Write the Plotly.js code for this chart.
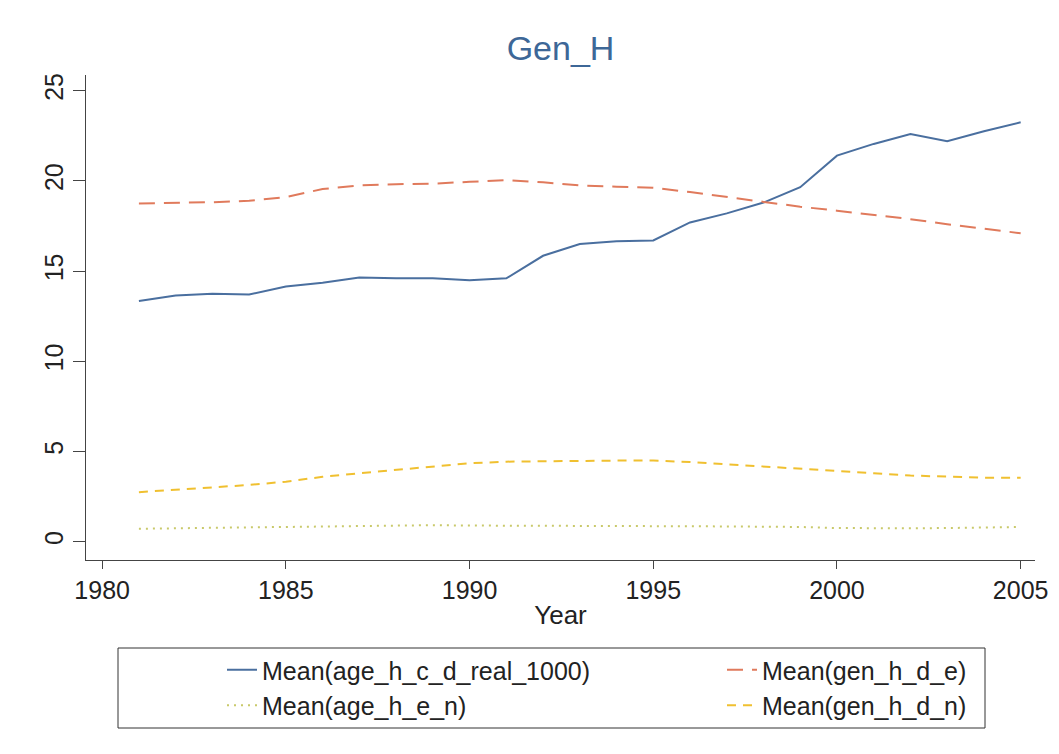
<!DOCTYPE html>
<html>
<head>
<meta charset="utf-8">
<script src="https://cdn.plot.ly/plotly-3.0.1.min.js"></script>
<style>
  html, body { margin: 0; padding: 0; background: #ffffff; }
  #plot { width: 1059px; height: 754px; }
</style>
</head>
<body>
<div id="plot"></div>
<script>
// Years on the x axis
var years = [1981, 1982, 1983, 1984, 1985, 1986, 1987, 1988, 1989, 1990, 1991, 1992, 1993,
             1994, 1995, 1996, 1997, 1998, 1999, 2000, 2001, 2002, 2003, 2004, 2005];

// Series
var ageHCDReal1000 = [13.35, 13.65, 13.75, 13.7, 14.15, 14.35, 14.65, 14.6, 14.6, 14.5, 14.6, 15.85, 16.5,
                      16.65, 16.7, 17.7, 18.2, 18.8, 19.65, 21.4, 22.05, 22.6, 22.2, 22.75, 23.25];
var genHDE = [18.75, 18.78, 18.82, 18.9, 19.1, 19.55, 19.75, 19.82, 19.85, 19.95, 20.05, 19.92, 19.75,
              19.68, 19.62, 19.38, 19.1, 18.82, 18.57, 18.35, 18.12, 17.88, 17.6, 17.35, 17.1];
var ageHEN = [0.72, 0.76, 0.78, 0.8, 0.82, 0.85, 0.88, 0.9, 0.92, 0.9, 0.9, 0.9, 0.9,
              0.9, 0.88, 0.86, 0.85, 0.84, 0.82, 0.76, 0.74, 0.75, 0.76, 0.8, 0.82];
var genHDN = [2.75, 2.88, 3.02, 3.15, 3.33, 3.6, 3.8, 3.98, 4.16, 4.35, 4.44, 4.48, 4.48,
              4.5, 4.5, 4.42, 4.3, 4.2, 4.07, 3.94, 3.8, 3.67, 3.6, 3.55, 3.55];

var xTicks = [1980, 1985, 1990, 1995, 2000, 2005];
var yTicks = [0, 5, 10, 15, 20, 25];

var traces = [
  { x: years, y: ageHCDReal1000, type: "scatter", mode: "lines",
    name: "Mean(age_h_c_d_real_1000)", legend: "legend",
    line: { color: "#4a6f9f", width: 2 } },
  { x: years, y: genHDE, type: "scatter", mode: "lines",
    name: "Mean(gen_h_d_e)", legend: "legend2",
    line: { color: "#e07a5c", width: 2, dash: "16px,9px" } },
  { x: years, y: ageHEN, type: "scatter", mode: "lines",
    name: "Mean(age_h_e_n)", legend: "legend",
    line: { color: "#c9c96a", width: 2, dash: "2px,5px" } },
  { x: years, y: genHDN, type: "scatter", mode: "lines",
    name: "Mean(gen_h_d_n)", legend: "legend2",
    line: { color: "#f0c030", width: 2, dash: "9px,7px" } }
];

var font = "Liberation Sans, Arial, sans-serif";

var legendCommon = {
  orientation: "v",
  xref: "container", yref: "container",
  xanchor: "left", yanchor: "top",
  y: 1 - 647 / 754,
  bgcolor: "rgba(0,0,0,0)",
  borderwidth: 0,
  font: { family: font, size: 25, color: "#222" },
  tracegroupgap: 0
};

var layout = {
  width: 1059,
  height: 754,
  paper_bgcolor: "#ffffff",
  plot_bgcolor: "#ffffff",
  margin: { l: 86, r: 24, t: 75, b: 194, autoexpand: false },
  font: { family: font, color: "#222" },
  title: {
    text: "Gen_H",
    font: { family: font, size: 34, color: "#3d6797" },
    xref: "paper", x: 0.5, xanchor: "center",
    yref: "container", y: 1 - 48 / 754, yanchor: "middle"
  },
  xaxis: {
    range: [1979.56, 2005.39],
    tickvals: xTicks,
    tickangle: 0,
    ticks: "outside", ticklen: 8, tickwidth: 1, tickcolor: "#444",
    showline: true, linecolor: "#444", linewidth: 1,
    showgrid: false, zeroline: false,
    tickfont: { family: font, size: 25, color: "#222" },
    title: { text: "Year", font: { family: font, size: 26, color: "#222" }, standoff: 2 }
  },
  yaxis: {
    range: [-1.01, 25.87],
    tickvals: yTicks,
    tickangle: -90,
    ticks: "outside", ticklen: 12, tickwidth: 1, tickcolor: "#444",
    showline: true, linecolor: "#444", linewidth: 1,
    showgrid: false, zeroline: false,
    tickfont: { family: font, size: 25, color: "#222" }
  },
  legend: Object.assign({}, legendCommon, { x: 222 / 1059 }),
  legend2: Object.assign({}, legendCommon, { x: 722 / 1059 }),
  shapes: [
    { type: "rect", xref: "paper", yref: "paper",
      x0: (118 - 86) / 949, x1: (985 - 86) / 949,
      y0: (560 - 728) / 485, y1: (560 - 648) / 485,
      line: { color: "#333", width: 1 }, fillcolor: "rgba(0,0,0,0)" }
  ]
};

Plotly.newPlot("plot", traces, layout, { displayModeBar: false, staticPlot: true });
</script>
</body>
</html>
